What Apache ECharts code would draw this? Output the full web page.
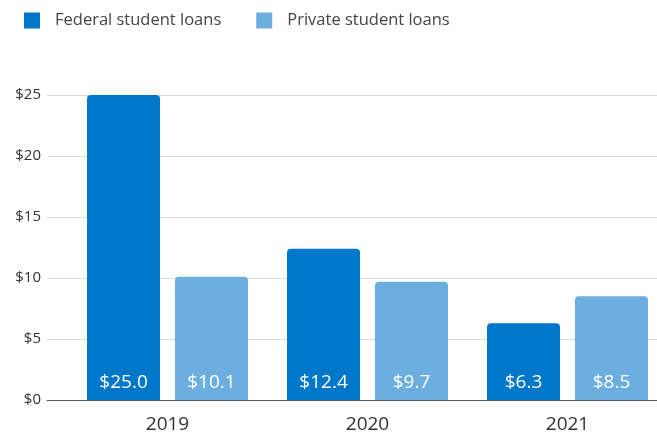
<!DOCTYPE html>
<html>
<head>
<meta charset="utf-8">
<script src="https://cdn.jsdelivr.net/npm/echarts@6/dist/echarts.min.js"></script>
<style>
  html, body { margin: 0; padding: 0; background: #fff; }
  #chart { width: 657px; height: 433px; }
</style>
</head>
<body>
<div id="chart"></div>
<script>
// Student loan amounts (billions of dollars) by year
const years = ['2019', '2020', '2021'];
const federalLoans = [25.0, 12.4, 6.3];
const privateLoans = [10.1, 9.7, 8.5];
const yTicks = [0, 5, 10, 15, 20, 25];

const FONT = '"Open Sans", "Noto Sans", sans-serif';
const FEDERAL_COLOR = '#0077c8';
const PRIVATE_COLOR = '#6caee0';

const chart = echarts.init(document.getElementById('chart'));

const valueLabel = {
  show: true,
  position: 'insideBottom',
  distance: 8,
  color: '#ffffff',
  fontFamily: FONT,
  fontSize: 19,
  formatter: p => '$' + p.value.toFixed(1)
};

chart.setOption({
  animation: false,
  legend: {
    left: 19,
    top: 7,
    itemWidth: 16,
    itemHeight: 16,
    itemGap: 35,
    icon: 'rect',
    textStyle: {
      fontFamily: FONT,
      fontSize: 16.5,
      color: '#444',
      padding: [0, 0, 0, 10]
    },
    data: ['Federal student loans', 'Private student loans']
  },
  grid: [
    // background grid: value labels, gridlines and baseline
    { left: 47, right: 0, top: 95, bottom: 33, outerBoundsMode: 'none' },
    // bar grid
    { left: 67.5, width: 600, top: 95, bottom: 33, outerBoundsMode: 'none' }
  ],
  xAxis: [
    {
      gridIndex: 0,
      type: 'category',
      data: [''],
      axisLine: { show: true, lineStyle: { color: '#555', width: 1 } },
      axisTick: { show: false },
      axisLabel: { show: false }
    },
    {
      gridIndex: 1,
      type: 'category',
      data: years,
      axisLine: { show: false },
      axisTick: { show: false },
      axisLabel: {
        margin: 15,
        fontFamily: FONT,
        fontSize: 19,
        color: '#333'
      }
    }
  ],
  yAxis: [
    {
      gridIndex: 0,
      type: 'value',
      min: yTicks[0],
      max: yTicks[yTicks.length - 1],
      interval: 5,
      axisLine: { show: false },
      axisTick: { show: false },
      axisLabel: {
        margin: 6,
        fontFamily: FONT,
        fontSize: 15,
        color: '#333',
        formatter: v => '$' + v
      },
      splitLine: { show: true, lineStyle: { color: '#dcdcdc', width: 1 } }
    },
    {
      gridIndex: 1,
      type: 'value',
      min: yTicks[0],
      max: yTicks[yTicks.length - 1],
      interval: 5,
      show: false,
      splitLine: { show: false }
    }
  ],
  series: [
    {
      name: 'Federal student loans',
      type: 'bar',
      xAxisIndex: 1,
      yAxisIndex: 1,
      data: federalLoans,
      barWidth: 73,
      barGap: '20.5%',
      itemStyle: { color: FEDERAL_COLOR, borderRadius: [4, 4, 0, 0] },
      label: valueLabel
    },
    {
      name: 'Private student loans',
      type: 'bar',
      xAxisIndex: 1,
      yAxisIndex: 1,
      data: privateLoans,
      barWidth: 73,
      barGap: '20.5%',
      itemStyle: { color: PRIVATE_COLOR, borderRadius: [4, 4, 0, 0] },
      label: valueLabel
    }
  ]
});
</script>
</body>
</html>
